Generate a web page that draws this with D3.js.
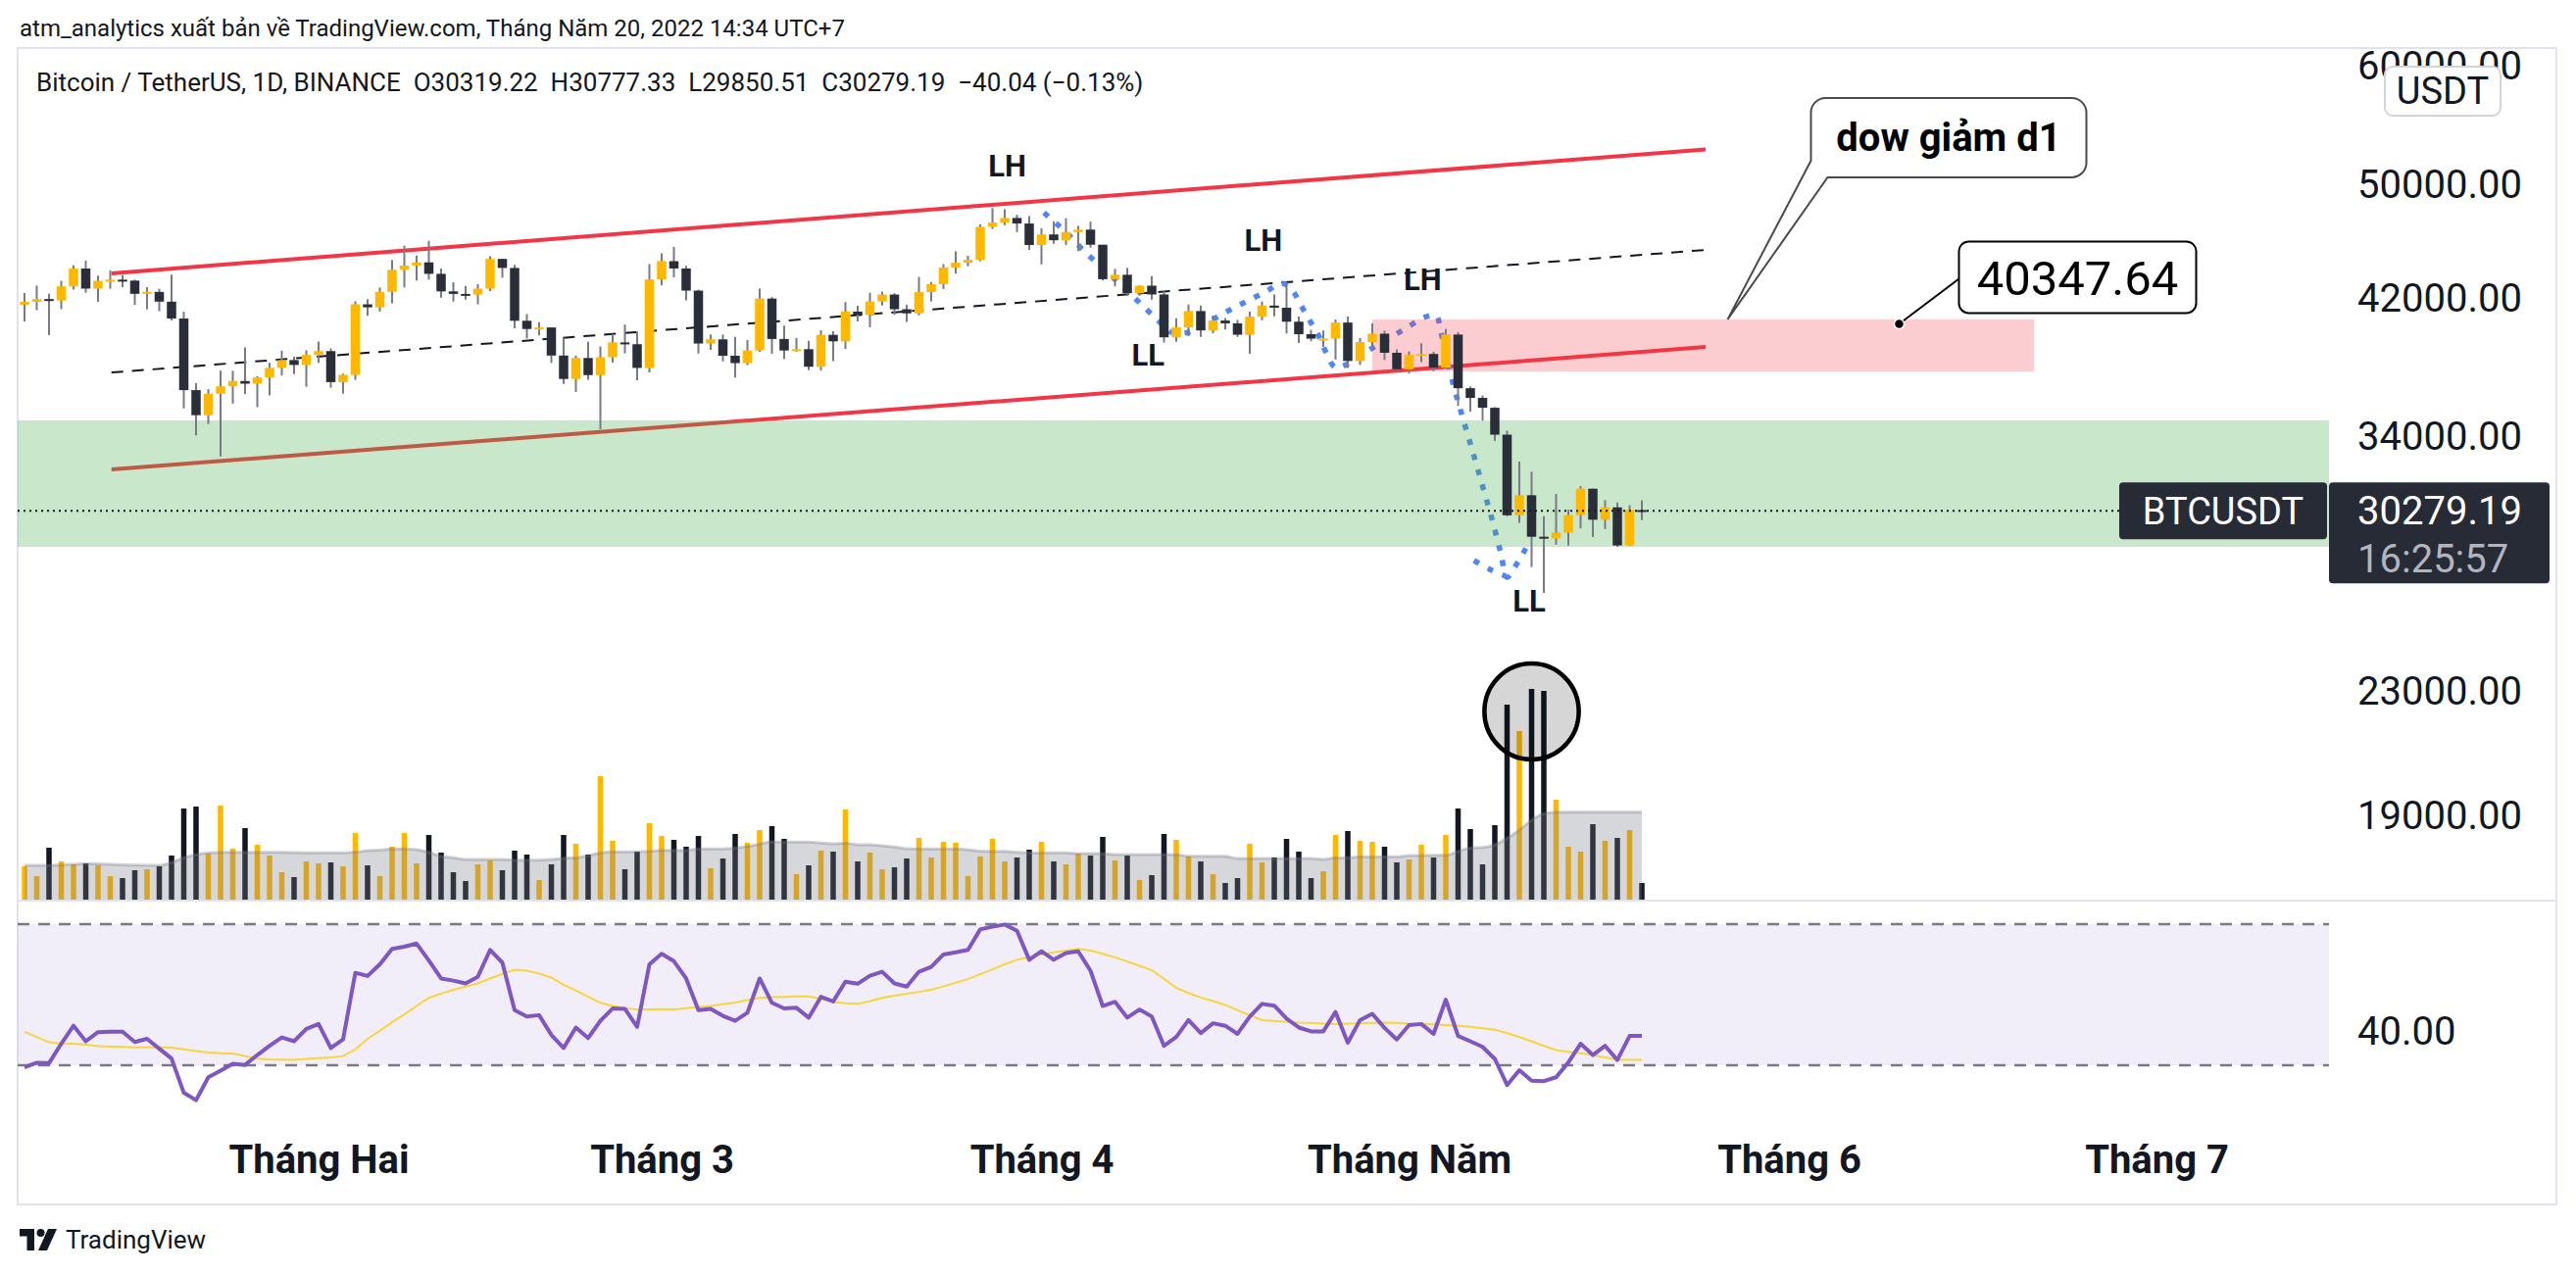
<!DOCTYPE html>
<html>
<head>
<meta charset="utf-8">
<script src="https://cdnjs.cloudflare.com/ajax/libs/d3/7.8.5/d3.min.js"></script>
<style>
  html, body { margin: 0; padding: 0; background: #fff; }
  svg { display: block; font-family: Roboto, "Noto Sans", sans-serif; }
</style>
</head>
<body>
<svg id="chart" width="2628" height="1300"></svg>
<script>
// ---- data (daily BTCUSDT candles, first candle 2022-01-08) ----
const firstDay = '2022-01-08';
const open = [41551,41733,41911,41822,42735,43920,42591,43099,43178,43114,42250,42375,41745,40680,36445,35071,36244,36660,36958,36809,37160,37716,38166,37881,38467,38694,36896,37311,41574,41382,42380,43840,44118,44338,43565,42408,42244,42197,42586,44575,43961,40538,40030,40123,38431,37075,38287,37296,38332,39214,39106,37709,43194,44420,43925,42458,39148,39398,38420,37988,38731,41941,39422,38730,38808,37778,39671,39280,41114,40917,41757,42201,41262,41002,42365,42882,43991,44313,44511,46827,47128,47465,47062,45538,46281,45868,46453,46622,45555,43207,43503,42287,42782,42207,39521,40127,41147,39942,40552,40378,39679,40801,41493,41358,40480,39710,39441,39450,40426,38112,39235,39742,38596,37630,38468,38525,37728,39690,36553,36013,35473,34038,30077,31017,29103,29030,29287,30086,31329,29874,30445,28716,30319];
const high = [42304,42786,42248,43100,44135,44459,43447,43800,43478,43180,42680,42579,43505,41100,36836,36500,37550,37545,38920,37235,38000,38720,38360,38744,39265,38855,37387,41772,41913,42656,44500,45492,44799,45822,43920,43000,42760,42876,44751,44578,44164,40959,40444,40124,39494,38429,39249,38968,39727,40300,39880,44226,44950,45400,44105,42527,39695,39693,39547,39362,42594,42039,40236,39486,39309,39947,39887,41718,41478,42325,42400,42296,41544,43361,43025,44220,45094,44792,46999,48190,48096,47700,47600,46720,47213,47444,46890,47200,45555,43900,43970,42800,43410,42414,40700,41561,41500,40870,40709,40595,41116,41760,42199,42976,40795,39980,39940,40616,40797,39474,40372,39925,38795,38675,39167,38651,40023,39845,36652,36146,35502,34243,32659,32162,30032,31083,30343,31460,31329,30788,30669,30545,30777];
const low = [40501,41200,39650,41268,42528,42313,41725,42577,42691,41540,41252,41138,40553,35440,34008,34601,32917,35701,36234,35507,36155,37268,37352,36632,38000,36586,36250,37026,40843,41116,41645,42667,43117,43187,42000,41748,41870,41570,42428,43307,40073,39450,39639,38000,36800,36351,37036,34322,38014,38563,37000,37450,42809,43334,41832,38550,38774,38088,37155,37867,38657,38540,38223,38660,37578,37555,38098,38828,40500,40135,41500,40911,40468,40875,41751,42560,43579,44072,44422,46665,46950,46445,45200,44200,45620,45530,45118,45353,43121,42727,42107,42126,41868,39200,39254,39588,39551,39766,39991,39546,38536,40571,40820,39751,39177,39285,38929,38200,37702,37881,38881,38176,37578,37386,38052,37510,37671,35571,35258,34785,33714,30033,29730,27785,26700,28751,28713,29480,29087,29450,28654,28694,29850];
const close = [41733,41911,41822,42735,43920,42591,43099,43178,43114,42250,42375,41745,40680,36445,35071,36244,36660,36958,36809,37160,37716,38166,37881,38467,38694,36896,37311,41574,41382,42380,43840,44118,44338,43565,42408,42244,42197,42586,44575,43961,40538,40030,40123,38431,37075,38287,37296,38332,39214,39106,37709,43194,44420,43925,42458,39148,39398,38420,37988,38731,41941,39422,38730,38808,37778,39671,39280,41114,40917,41757,42201,41262,41002,42365,42882,43991,44313,44511,46827,47128,47465,47062,45538,46281,45868,46453,46622,45555,43207,43503,42287,42782,42207,39521,40127,41147,39942,40552,40378,39679,40801,41493,41358,40480,39710,39441,39450,40426,38112,39235,39742,38596,37630,38468,38525,37728,39690,36553,36013,35473,34038,30077,31017,29103,29030,29287,30086,31329,29874,30445,28716,30319,30279.19];
// volume in thousand BTC
const volume = [34,24,53,39,36,37,35,24,22,30,31,34,45,93,95,47,96,52,73,56,45,28,23,39,37,38,34,68,35,24,54,68,37,66,48,28,19,36,40,30,50,46,20,36,66,57,46,126,60,31,49,78,65,61,54,65,32,42,67,58,71,75,62,26,35,50,49,92,39,48,31,33,42,63,43,59,58,24,44,62,39,43,51,59,39,36,47,45,64,40,45,20,25,67,61,44,39,26,17,22,57,38,43,62,49,22,29,66,70,60,59,54,38,41,56,43,66,93,72,36,76,199,172,215,213,102,54,49,77,60,63,71,17];
const volumeMA = [35,35,35,35.5,36,36.7,36.5,36,35.5,35.2,35,35,38,42.7,46,47.7,48.3,48.3,48.3,48.3,48.3,48.3,48,47.7,47.7,47.7,47.7,48.5,50,50.5,51.7,51.7,51,48.3,44.3,42.7,41,41,41,41,40.3,40.3,40.3,41,42.3,42.7,45,47.7,48.7,48.7,48.7,49.3,50.3,50.3,50.3,51.7,51.7,51.7,52.7,54.3,56.7,59,58.7,58.7,58.7,57.7,57,57.7,56,56,55,53.7,52,51.7,51.7,51.7,51.7,51,49.5,49.3,49.3,48.3,47.7,47.7,47.7,47.7,47,47,47,46,46,46,46,46,46,44.3,44.3,44.3,44.3,42,42,42,42,42,42,42,41,42.7,42.7,43.7,43.7,43.7,43.7,45,45,45.3,45.3,49.3,52.7,53.3,56,62.7,71,81,87.7,89.3,89.3,89.3,89.3,89.3,89.3,89.3,89.3];
const rsi = [29.4,30.7,30.6,36.1,41.2,36.8,39.4,39.5,39.5,36.6,37.5,34.7,31.9,22.2,20.1,26.6,28.5,30.4,30.1,32.9,35.5,37.9,36.8,40.3,41.7,34.9,37.3,56.2,55.3,58.6,63,63.6,64.5,59.7,54.6,54,53.2,55.1,62.7,59.1,45.6,43.8,44.2,38.6,34.9,40.7,37.7,42.6,46.1,46,40.9,58.6,61.6,59.5,54.6,45.6,46,44,42.6,44.9,54.6,47.7,46.1,46.3,43.5,49.4,48.1,53.7,53.1,55.4,56.5,53.2,52.3,56.5,57.9,61.4,62,62.7,68.5,69.3,69.9,68.1,59.9,62.3,59.9,61.8,62.3,56.8,46.8,48,43.5,45.8,43.8,35.5,38,42.8,39.1,41.9,41.2,38.9,43.8,47.4,46.9,43.2,40.7,39.6,39.6,45.1,36.4,42.8,44.6,40.6,37.3,41.4,41.7,38.9,48.6,38.3,36.8,35.2,31.8,24.4,28.6,25.6,25.5,26.6,30.8,36.1,32.9,35.5,31.5,38.3,38.3];
const rsiMA = [39.5,38,36.5,36.2,36.1,35.8,35.4,35.3,35.2,35.1,35.1,35.1,35,34.5,34,33.6,33.4,33.3,32.6,31.9,31.7,31.6,31.5,31.8,32,32.2,32.6,34.5,37.5,39.8,42.2,44.4,46.8,49.1,50.3,51.4,52.3,53.2,54.6,55.9,57.1,56.8,56,54.8,52.8,51.2,49.4,47.7,46.8,46.2,45.8,45.8,45.9,45.8,46.2,46.5,46.8,47.3,47.8,48.5,49.1,49.3,49.4,49.5,49.5,48.8,47.9,47.6,47.4,48.2,49.1,49.7,50.3,50.8,51.4,52.4,53.4,54.4,55.8,57.2,58.6,59.9,60.6,61.4,62,62.5,63,62.5,61.6,60.6,59.4,58.2,56.9,54.5,51.9,50.5,49.2,48.2,47.1,45.6,44.2,42.8,42.6,42.3,42.1,42,41.8,41.7,41.8,41.9,42,42.1,42,41.8,41.7,41.6,41.4,41.2,40.9,40.5,40.1,39.1,38,36.8,35.5,34.3,33.8,33.4,32.9,32.2,31.5,31.5,31.5];

// axis ticks
const monthTicks = ['2022-02-01','2022-03-01','2022-04-01','2022-05-01','2022-06-01','2022-07-01'];
const monthLabels = ['Tháng Hai','Tháng 3','Tháng 4','Tháng Năm','Tháng 6','Tháng 7'];
const priceTicks = [60000, 50000, 42000, 34000, 23000, 19000];
const rsiTicks = [40];
const lastPrice = 30279.19;

// drawings: [day index from first candle, price]
const upperLine = [[7.1, 43600], [137.2, 52727]];
const midLine = [[7.1, 37445], [137.2, 45194]];
const lowerLine = [[7.1, 32270], [137.2, 38940]];
const greenZone = [28655, 34790];
const pinkZone = { days: [110, 164], prices: [37510, 40620] };
const swingLabels = [
  { text: 'LH', day: 80.2, price: 51433 },
  { text: 'LH', day: 101.1, price: 45880 },
  { text: 'LH', day: 114.1, price: 43200 },
  { text: 'LL', day: 91.7, price: 38477 },
  { text: 'LL', day: 122.8, price: 26380 }
];
const bluePath = [[83.2,47852],[84.3,46995],[85.4,46085],[86.3,45265],[87.4,44386],[88.5,43591],[89.4,42875],[90.6,41985],[91.6,41235],[92.6,40495],[93.6,39830],[95,39830],[96.2,40255],[97.4,40800],[98.7,41356],[100,41860],[101.4,42430],[102.6,42940],[103.4,42555],[104.2,41480],[104.9,40555],[105.6,39650],[106.2,38655],[107,37735],[108.2,38020],[109.4,38595],[110.4,39060],[111.8,39650],[113,40195],[114.2,40740],[115.2,40865],[115.6,39830],[116.6,36780],[117.4,34895],[118.2,33155],[119,31455],[119.8,29840],[120.5,28355],[121,27350],[121.9,28015],[122.6,28655]];
const blueHook = [[118.3,28060],[119.6,27680],[120.9,27390]];
const volumeCircle = { day: 123, vol: 192, rDays: 3.85, rVol: 49 };
const calloutTip = [139, 40620];
const priceNote = [153, 40347.64];

// ---- layout ----
const W = 2628, H = 1300;
const L = 18, R = 2376, axisR = 2608, T = 49, priceB = 919, rsiB = 1140, B = 1229;
const pxPerDay = 12.5, feb1X = 325;
const upColor = '#ffb800', downColor = '#2a2e39', wickColor = '#787b86';

const svg = d3.select('#chart');
const parse = d3.utcParse('%Y-%m-%d');
const day0 = parse(firstDay);
const dates = open.map((_, i) => d3.utcDay.offset(day0, i));
const feb1 = parse('2022-02-01');

// scales
const x = d3.scaleUtc()
  .domain([new Date(+feb1 - (feb1X - L) / pxPerDay * 864e5), new Date(+feb1 + (R - feb1X) / pxPerDay * 864e5)])
  .range([L, R]);
const xd = d => x(new Date(+day0 + d * 864e5));
const y = d3.scaleLog().domain([61605, 16652]).range([T, priceB]);
const yVol = d3.scaleLinear().domain([0, 240]).range([priceB - 1, priceB - 241]);
const yRsi = d3.scaleLinear().domain([30, 70]).range([1087, 943]);

// clips
const defs = svg.append('defs');
defs.append('clipPath').attr('id', 'clipPrice').append('rect').attr('x', L).attr('y', T).attr('width', R - L).attr('height', priceB - T);
defs.append('clipPath').attr('id', 'clipRsi').append('rect').attr('x', L).attr('y', priceB).attr('width', R - L).attr('height', rsiB - priceB);

// header texts
svg.append('text').attr('x', 20).attr('y', 29).attr('dy', '0.35em')
  .attr('font-size', 24).attr('fill', '#131722')
  .text('atm_analytics xuất bản về TradingView.com, Tháng Năm 20, 2022 14:34 UTC+7');

// frame
const frame = svg.append('g').attr('stroke', '#e0e3eb').attr('stroke-width', 2).attr('fill', 'none');
frame.append('rect').attr('x', L).attr('y', T).attr('width', axisR - L).attr('height', B - T);
frame.append('line').attr('x1', L).attr('x2', axisR).attr('y1', priceB).attr('y2', priceB);

svg.append('text').attr('x', 37).attr('y', 84).attr('dy', '0.35em')
  .attr('font-size', 26).attr('fill', '#131722').style('white-space', 'pre')
  .text('Bitcoin / TetherUS, 1D, BINANCE  O30319.22  H30777.33  L29850.51  C30279.19  −40.04 (−0.13%)');

// ---- price pane ----
const pane = svg.append('g').attr('clip-path', 'url(#clipPrice)');

// volume bars
pane.append('g').selectAll('rect').data(volume).join('rect')
  .attr('x', (d, i) => x(dates[i]) - 2.75)
  .attr('width', 5.5)
  .attr('y', d => yVol(d))
  .attr('height', d => yVol(0) - yVol(d))
  .attr('fill', (d, i) => close[i] >= open[i] ? upColor : '#131722');

// volume MA
pane.append('path').datum(volumeMA)
  .attr('fill', 'rgba(120,123,134,0.3)')
  .attr('d', d3.area().x((d, i) => x(dates[i])).y0(yVol(0)).y1(d => yVol(d)).curve(d3.curveMonotoneX));
pane.append('path').datum(volumeMA)
  .attr('fill', 'none').attr('stroke', 'rgba(120,123,134,0.35)').attr('stroke-width', 3)
  .attr('d', d3.line().x((d, i) => x(dates[i])).y(d => yVol(d)).curve(d3.curveMonotoneX));

// channel
const seg = d3.line().x(d => xd(d[0])).y(d => y(d[1]));
pane.append('path').attr('d', seg(upperLine)).attr('stroke', '#f23645').attr('stroke-width', 4).attr('fill', 'none');
pane.append('path').attr('d', seg(lowerLine)).attr('stroke', '#f23645').attr('stroke-width', 4).attr('fill', 'none');
pane.append('path').attr('d', seg(midLine)).attr('stroke', '#131722').attr('stroke-width', 2)
  .attr('stroke-dasharray', '12 9').attr('fill', 'none');

// blue dotted path
const curve = d3.line().x(d => xd(d[0])).y(d => y(d[1])).curve(d3.curveCatmullRom);
[bluePath, blueHook].forEach(p => {
  pane.append('path').attr('d', curve(p)).attr('fill', 'none')
    .attr('stroke', '#4f86f7').attr('stroke-width', 5.5).attr('stroke-dasharray', '6 10');
});

// zones
pane.append('rect').attr('x', L).attr('width', R - L)
  .attr('y', y(greenZone[1])).attr('height', y(greenZone[0]) - y(greenZone[1]))
  .attr('fill', 'rgba(76,175,80,0.3)');
pane.append('rect').attr('x', xd(pinkZone.days[0])).attr('width', xd(pinkZone.days[1]) - xd(pinkZone.days[0]))
  .attr('y', y(pinkZone.prices[1])).attr('height', y(pinkZone.prices[0]) - y(pinkZone.prices[1]))
  .attr('fill', 'rgba(242,54,69,0.25)');

// candles
const candles = pane.append('g');
candles.selectAll('line').data(open).join('line')
  .attr('x1', (d, i) => x(dates[i])).attr('x2', (d, i) => x(dates[i]))
  .attr('y1', (d, i) => y(high[i])).attr('y2', (d, i) => y(low[i]))
  .attr('stroke', wickColor).attr('stroke-width', 2);
candles.selectAll('rect').data(open).join('rect')
  .attr('x', (d, i) => x(dates[i]) - 4.75).attr('width', 9.5)
  .attr('y', (d, i) => Math.min(y(open[i]), y(close[i])))
  .attr('height', (d, i) => Math.max(2, Math.abs(y(open[i]) - y(close[i]))))
  .attr('fill', (d, i) => close[i] >= open[i] ? upColor : downColor);

// last price line
pane.append('line').attr('x1', L).attr('x2', R).attr('y1', y(lastPrice)).attr('y2', y(lastPrice))
  .attr('stroke', '#131722').attr('stroke-width', 2).attr('stroke-dasharray', '2 4');

// volume circle
pane.append('ellipse')
  .attr('cx', xd(volumeCircle.day)).attr('cy', yVol(volumeCircle.vol))
  .attr('rx', xd(volumeCircle.rDays) - xd(0)).attr('ry', yVol(0) - yVol(volumeCircle.rVol))
  .attr('fill', 'rgba(0,0,0,0.16)').attr('stroke', '#000').attr('stroke-width', 4.5);

// swing labels
pane.append('g').selectAll('text').data(swingLabels).join('text')
  .attr('x', d => xd(d.day)).attr('y', d => y(d.price)).attr('dy', '0.35em')
  .attr('text-anchor', 'middle').attr('font-size', 31).attr('font-weight', 700).attr('fill', '#131722')
  .text(d => d.text);

// callout "dow giảm d1"
{
  const tx = xd(calloutTip[0]), ty = y(calloutTip[1]);
  const bl = tx + 85, bt = ty - 226, br = bl + 281, bb = bt + 81, r = 15;
  const p = `M${bl + r},${bt} H${br - r} A${r},${r} 0 0 1 ${br},${bt + r} V${bb - r} A${r},${r} 0 0 1 ${br - r},${bb} H${bl + 17} L${tx},${ty} L${bl},${bb - 17} V${bt + r} A${r},${r} 0 0 1 ${bl + r},${bt} Z`;
  svg.append('path').attr('d', p).attr('fill', '#fff').attr('stroke', '#4a4a4a').attr('stroke-width', 2);
  svg.append('text').attr('x', (bl + br) / 2).attr('y', (bt + bb) / 2).attr('dy', '0.35em')
    .attr('text-anchor', 'middle').attr('font-size', 40).attr('font-weight', 700).attr('fill', '#000')
    .text('dow giảm d1');
}

// price note
{
  const px = xd(priceNote[0]), py = y(priceNote[1]);
  const bl = px + 61, bt = py - 84;
  svg.append('line').attr('x1', px).attr('y1', py).attr('x2', bl).attr('y2', py - 46)
    .attr('stroke', '#000').attr('stroke-width', 2);
  svg.append('rect').attr('x', bl).attr('y', bt).attr('width', 242).attr('height', 73).attr('rx', 10)
    .attr('fill', '#fff').attr('stroke', '#000').attr('stroke-width', 2);
  svg.append('text').attr('x', bl + 121).attr('y', bt + 37).attr('dy', '0.35em')
    .attr('text-anchor', 'middle').attr('font-size', 49).attr('fill', '#000')
    .text(d3.format('.2f')(priceNote[1]));
  svg.append('circle').attr('cx', px).attr('cy', py).attr('r', 5).attr('fill', '#000')
    .attr('stroke', '#fff').attr('stroke-width', 1.5);
}

// ---- RSI pane ----
const rp = svg.append('g').attr('clip-path', 'url(#clipRsi)');
rp.append('rect').attr('x', L).attr('width', R - L).attr('y', yRsi(70)).attr('height', yRsi(30) - yRsi(70))
  .attr('fill', 'rgba(126,87,194,0.1)');
[70, 30].forEach(v => rp.append('line').attr('x1', L).attr('x2', R).attr('y1', yRsi(v)).attr('y2', yRsi(v))
  .attr('stroke', '#787b86').attr('stroke-width', 2.5).attr('stroke-dasharray', '12 9'));
rp.append('path').datum(rsiMA).attr('fill', 'none').attr('stroke', '#f9d43a').attr('stroke-width', 2)
  .attr('d', d3.line().x((d, i) => x(dates[i])).y(d => yRsi(d)));
rp.append('path').datum(rsi).attr('fill', 'none').attr('stroke', '#7e57c2').attr('stroke-width', 4)
  .attr('stroke-linejoin', 'round')
  .attr('d', d3.line().x((d, i) => x(dates[i])).y(d => yRsi(d)));

// ---- axes ----
const priceAxis = svg.append('g').attr('transform', `translate(${R},0)`)
  .call(d3.axisRight(y).tickValues(priceTicks).tickFormat(d3.format('.2f')).tickSize(0));
const rsiAxis = svg.append('g').attr('transform', `translate(${R},0)`)
  .call(d3.axisRight(yRsi).tickValues(rsiTicks).tickFormat(d3.format('.2f')).tickSize(0));
[priceAxis, rsiAxis].forEach(a => {
  a.select('.domain').remove();
  a.selectAll('text').attr('x', 29).attr('dy', '0.35em').attr('text-anchor', 'start')
    .attr('font-size', 40).attr('font-family', 'Roboto, sans-serif').attr('fill', '#131722');
});

const timeAxis = svg.append('g').attr('transform', `translate(0,${rsiB})`)
  .call(d3.axisBottom(x).tickValues(monthTicks.map(parse)).tickFormat((d, i) => monthLabels[i]).tickSize(0));
timeAxis.select('.domain').remove();
timeAxis.selectAll('text').attr('y', 43).attr('dy', '0.35em')
  .attr('font-size', 40).attr('font-weight', 700).attr('font-family', 'Roboto, sans-serif').attr('fill', '#131722');

// USDT badge
svg.append('rect').attr('x', 2433).attr('y', 68).attr('width', 118).attr('height', 50).attr('rx', 8)
  .attr('fill', '#fff').attr('stroke', '#d1d4dc').attr('stroke-width', 2);
svg.append('text').attr('x', 2492).attr('y', 93).attr('dy', '0.35em').attr('text-anchor', 'middle')
  .attr('font-size', 38).attr('fill', '#131722').text('USDT');

// last price labels
{
  const ly = y(lastPrice);
  svg.append('rect').attr('x', 2162).attr('y', ly - 29).attr('width', 212).attr('height', 58).attr('rx', 4).attr('fill', '#262b36');
  svg.append('text').attr('x', 2268).attr('y', ly).attr('dy', '0.35em').attr('text-anchor', 'middle')
    .attr('font-size', 38).attr('fill', '#fff').text('BTCUSDT');
  svg.append('rect').attr('x', R).attr('y', ly - 29).attr('width', 225).attr('height', 103).attr('rx', 4).attr('fill', '#262b36');
  svg.append('text').attr('x', R + 29).attr('y', ly).attr('dy', '0.35em')
    .attr('font-size', 40).attr('fill', '#fff').text(d3.format('.2f')(lastPrice));
  svg.append('text').attr('x', R + 29).attr('y', ly + 49).attr('dy', '0.35em')
    .attr('font-size', 40).attr('fill', '#b2b5be').text('16:25:57');
}

// TradingView logo
{
  const g = svg.append('g').attr('transform', 'translate(20,1254)').attr('fill', '#131722');
  g.append('path').attr('d', 'M0 0 H15 V22 H7.5 V7.5 H0 Z');
  g.append('circle').attr('cx', 21.5).attr('cy', 4).attr('r', 4);
  g.append('path').attr('d', 'M29 0 H38 L28 22 H19 Z');
  svg.append('text').attr('x', 67).attr('y', 1265).attr('dy', '0.35em')
    .attr('font-size', 26).attr('fill', '#131722').text('TradingView');
}
</script>
</body>
</html>
